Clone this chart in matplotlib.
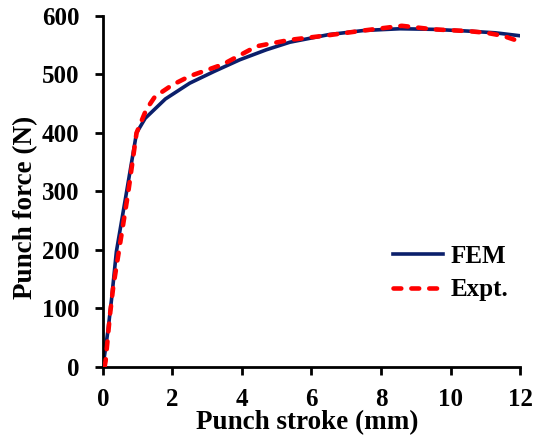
import matplotlib
matplotlib.use("Agg")
import matplotlib.pyplot as plt

# Punch force vs. punch stroke: simulation and experiment
fem_stroke = [0.0, 0.06, 0.15, 0.25, 0.39, 0.68, 0.97, 1.22, 1.8, 2.5, 3.2, 3.94, 4.7, 5.38, 6.5, 7.5, 8.55, 9.5, 10.5, 11.3, 12.0]
fem_force = [0, 24, 63, 115, 197, 298, 400, 425, 458, 485, 505, 525, 542, 555, 568, 575, 578, 577, 574, 571, 566]

exp_stroke = [0.05, 0.08, 0.2, 0.3, 0.46, 0.73, 0.97, 1.25, 1.5, 2.0, 2.5, 3.45, 4.42, 5.38, 6.5, 7.5, 8.6, 9.5, 10.5, 11.04, 11.5, 11.95]
exp_force = [0, 10, 86, 137, 197, 298, 400, 440, 462, 482, 497, 517, 548, 559, 567, 575, 583, 577, 574, 571, 566, 557]

x_ticks = [0, 2, 4, 6, 8, 10, 12]
y_ticks = [0, 100, 200, 300, 400, 500, 600]

plt.rcParams['font.family'] = ['Liberation Serif', 'DejaVu Serif']
plt.rcParams['font.weight'] = 'bold'

fig = plt.figure(figsize=(5.44, 4.41), dpi=100)
ax = fig.add_axes([0.189, 0.168, 0.767, 0.796])

ax.plot(fem_stroke, fem_force, color='#0b1f6b', lw=2.6, label='FEM', zorder=2)
ax.plot(exp_stroke, exp_force, color='#ff0000', lw=3.3, ls=(0, (1.7, 2.2)),
        dash_capstyle='round', label='Expt.', zorder=3)

ax.set_xlim(0, 12)
ax.set_ylim(0, 600)
ax.set_xticks(x_ticks)
ax.set_yticks(y_ticks)
ax.tick_params(direction='out', length=6, width=2, labelsize=18)
ax.tick_params(axis='x', pad=9)
ax.tick_params(axis='y', pad=11)
for lbl in ax.get_xticklabels() + ax.get_yticklabels():
    lbl.set_fontweight('bold')

for side in ('top', 'right'):
    ax.spines[side].set_visible(False)
for side in ('left', 'bottom'):
    ax.spines[side].set_linewidth(2)

ax.set_xlabel('Punch stroke (mm)', fontsize=19.5, fontweight='bold', va='center')
ax.set_ylabel('Punch force (N)', fontsize=19.5, fontweight='bold', va='center')
ax.xaxis.set_label_coords(0.489, -0.160)
ax.yaxis.set_label_coords(-0.185, 0.455)

leg = fig.legend(loc='center left', bbox_to_anchor=(393 / 544, 1 - 273 / 441),
                 frameon=False, borderpad=0, borderaxespad=0,
                 prop={'family': 'Liberation Serif', 'weight': 'bold', 'size': 18},
                 handlelength=2.0, handletextpad=0.3, labelspacing=0.42)

fig.savefig('out.png', dpi=100)
